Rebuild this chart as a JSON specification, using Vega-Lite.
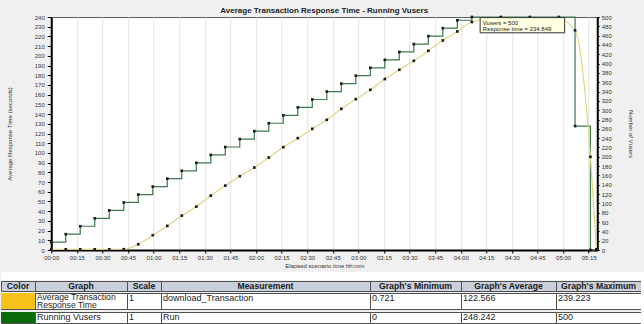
{
  "$schema": "https://vega.github.io/schema/vega-lite/v6.json",
  "background": "#f0f0f0",
  "padding": {"left": 0, "top": 6, "right": 0, "bottom": 0},
  "spacing": 3,
  "center": true,
  "config": {
    "font": "Liberation Sans",
    "view": {"stroke": null},
    "axis": {
      "labelFont": "Liberation Sans", "labelFontSize": 6, "labelColor": "#333333",
      "titleFont": "Liberation Sans", "titleFontSize": 6, "titleFontWeight": "normal", "titleColor": "#333333",
      "domainColor": "#000000", "domainWidth": 2, "tickColor": "#000000", "tickSize": 3,
      "labelFlush": false, "labelOverlap": false, "grid": false
    }
  },
  "datasets": {
    "series": [
      {"elapsed": 0, "vusers": 17, "response": 0.72},
      {"elapsed": 8.5, "vusers": 34, "response": 0.75},
      {"elapsed": 17, "vusers": 51, "response": 0.73},
      {"elapsed": 25.5, "vusers": 68, "response": 0.74},
      {"elapsed": 34, "vusers": 85, "response": 0.76},
      {"elapsed": 42.5, "vusers": 102, "response": 0.8},
      {"elapsed": 51, "vusers": 119, "response": 5.9},
      {"elapsed": 59.5, "vusers": 136, "response": 15.2},
      {"elapsed": 68, "vusers": 153, "response": 24.8},
      {"elapsed": 76.5, "vusers": 170, "response": 35.4},
      {"elapsed": 85, "vusers": 187, "response": 44.7},
      {"elapsed": 93.5, "vusers": 204, "response": 56.0},
      {"elapsed": 102, "vusers": 221, "response": 66.3},
      {"elapsed": 110.5, "vusers": 238, "response": 76.0},
      {"elapsed": 119, "vusers": 255, "response": 84.9},
      {"elapsed": 127.5, "vusers": 272, "response": 95.2},
      {"elapsed": 136, "vusers": 289, "response": 105.9},
      {"elapsed": 144.5, "vusers": 306, "response": 115.2},
      {"elapsed": 153, "vusers": 323, "response": 124.8},
      {"elapsed": 161.5, "vusers": 340, "response": 134.1},
      {"elapsed": 170, "vusers": 357, "response": 145.4},
      {"elapsed": 178.5, "vusers": 374, "response": 155.4},
      {"elapsed": 187, "vusers": 391, "response": 165.0},
      {"elapsed": 195.5, "vusers": 408, "response": 176.1},
      {"elapsed": 204, "vusers": 425, "response": 185.6},
      {"elapsed": 212.5, "vusers": 442, "response": 194.9},
      {"elapsed": 221, "vusers": 459, "response": 205.2},
      {"elapsed": 229.5, "vusers": 476, "response": 215.9},
      {"elapsed": 238, "vusers": 493, "response": 225.1},
      {"elapsed": 246.5, "vusers": 500, "response": 234.849},
      {"elapsed": 263.5, "vusers": 500, "response": 239.223},
      {"elapsed": 280.5, "vusers": 500, "response": 238.9},
      {"elapsed": 297.5, "vusers": 500, "response": 238.2},
      {"elapsed": 307, "vusers": 266, "response": 226.2},
      {"elapsed": 316, "vusers": 0, "response": 96.0},
      {"elapsed": 319.5, "vusers": 0, "response": 0.8}
    ],
    "headers": [
      {"col": "color", "label": "Color"},
      {"col": "graph", "label": "Graph"},
      {"col": "scale", "label": "Scale"},
      {"col": "measurement", "label": "Measurement"},
      {"col": "min", "label": "Graph's Minimum"},
      {"col": "avg", "label": "Graph's Average"},
      {"col": "max", "label": "Graph's Maximum"}
    ],
    "summary": [
      {"series": "response", "graph": "Average Transaction\nResponse Time", "scale": 1, "measurement": "download_Transaction", "min": 0.721, "avg": 122.566, "max": 239.223},
      {"series": "vusers", "graph": "Running Vusers", "scale": 1, "measurement": "Run", "min": 0, "avg": 248.242, "max": 500}
    ]
  },
  "vconcat": [
    {
      "width": 546,
      "height": 233,
      "view": {"fill": "#ffffff", "stroke": "#606060"},
      "title": {"text": "Average Transaction Response Time - Running Vusers", "font": "Liberation Sans", "fontSize": 8, "fontWeight": "bold", "color": "#222222", "offset": -1, "anchor": "middle"},
      "data": {"name": "series"},
      "encoding": {
        "x": {
          "field": "elapsed", "type": "quantitative",
          "scale": {"domain": [0, 320], "nice": false, "zero": false},
          "axis": {
            "values": [0, 15, 30, 45, 60, 75, 90, 105, 120, 135, 150, 165, 180, 195, 210, 225, 240, 255, 270, 285, 300, 315],
            "labelExpr": "(floor(datum.value / 60) < 10 ? '0' : '') + floor(datum.value / 60) + ':' + (datum.value % 60 < 10 ? '0' : '') + (datum.value % 60)",
            "title": "Elapsed scenario time hh:mm",
            "grid": true, "gridColor": "#e4e4e4", "gridWidth": 1,
            "tickSize": 3, "labelPadding": 1, "titlePadding": 2
          }
        }
      },
      "layer": [
        {
          "encoding": {
            "y": {
              "field": "vusers", "type": "quantitative",
              "scale": {"domain": [0, 500], "nice": false},
              "axis": {
                "orient": "right",
                "values": [0, 20, 40, 60, 80, 100, 120, 140, 160, 180, 200, 220, 240, 260, 280, 300, 320, 340, 360, 380, 400, 420, 440, 460, 480, 500],
                "title": "Number of Vusers", "titleAngle": 90, "titlePadding": 16,
                "tickSize": 2, "labelPadding": 2
              }
            }
          },
          "layer": [
            {"mark": {"type": "line", "interpolate": "step-after", "color": "#3c7a4c", "strokeWidth": 1.2}},
            {"mark": {"type": "point", "shape": "square", "filled": true, "size": 7, "color": "#1a1a1a", "opacity": 1}}
          ]
        },
        {
          "encoding": {
            "y": {
              "field": "response", "type": "quantitative",
              "scale": {"domain": [0, 240], "nice": false},
              "axis": {
                "orient": "left",
                "values": [0, 10, 20, 30, 40, 50, 60, 70, 80, 90, 100, 110, 120, 130, 140, 150, 160, 170, 180, 190, 200, 210, 220, 230, 240],
                "title": "Average Response Time (seconds)", "titlePadding": 21.5,
                "tickSize": 4, "labelPadding": 3
              }
            }
          },
          "layer": [
            {"mark": {"type": "line", "interpolate": "monotone", "color": "#e3d57e", "strokeWidth": 1.2}},
            {"mark": {"type": "point", "shape": "square", "filled": true, "size": 7, "color": "#1a1a1a", "opacity": 1}},
            {
              "transform": [{"filter": "datum.elapsed == 246.5"}],
              "mark": {"type": "point", "shape": "M0.83,-0.44H9.28V1.08H0.83Z", "size": 400, "filled": true, "fill": "#ffffe1", "stroke": "#333333", "strokeWidth": 1, "opacity": 1}
            },
            {
              "transform": [
                {"filter": "datum.elapsed == 246.5"},
                {"calculate": "'Vusers = ' + datum.vusers + '\\n' + 'Response time = ' + datum.response", "as": "tip"}
              ],
              "mark": {"type": "text", "align": "left", "baseline": "top", "dx": 11, "dy": -2.5, "fontSize": 6, "lineHeight": 6.5, "lineBreak": "\n", "color": "#222222"},
              "encoding": {"text": {"field": "tip", "type": "nominal"}}
            }
          ]
        }
      ],
      "resolve": {"scale": {"y": "independent"}, "axis": {"y": "independent"}}
    },
    {
      "spacing": 0,
      "vconcat": [
        {"width": 683, "height": 8, "view": {"fill": "#ffffff"}, "data": {"name": "headers"}, "transform": [{"filter": "datum.col == 'color'"}], "mark": {"type": "rect", "color": "#ffffff", "opacity": 0.01}},
        {
          "spacing": 0, "bounds": "flush",
          "hconcat": [
            {"width": 34, "height": 10, "view": {"fill": "#c9d0dc", "stroke": "#4f4f4f"}, "data": {"name": "headers"}, "transform": [{"filter": "datum.col == 'color'"}], "mark": {"type": "text", "fontWeight": "bold", "fontSize": 8.7, "color": "#1a1a1a", "baseline": "middle"}, "encoding": {"text": {"field": "label", "type": "nominal"}}},
            {"width": 92, "height": 10, "view": {"fill": "#c9d0dc", "stroke": "#4f4f4f"}, "data": {"name": "headers"}, "transform": [{"filter": "datum.col == 'graph'"}], "mark": {"type": "text", "fontWeight": "bold", "fontSize": 8.7, "color": "#1a1a1a", "baseline": "middle"}, "encoding": {"text": {"field": "label", "type": "nominal"}}},
            {"width": 34, "height": 10, "view": {"fill": "#c9d0dc", "stroke": "#4f4f4f"}, "data": {"name": "headers"}, "transform": [{"filter": "datum.col == 'scale'"}], "mark": {"type": "text", "fontWeight": "bold", "fontSize": 8.7, "color": "#1a1a1a", "baseline": "middle"}, "encoding": {"text": {"field": "label", "type": "nominal"}}},
            {"width": 209, "height": 10, "view": {"fill": "#c9d0dc", "stroke": "#4f4f4f"}, "data": {"name": "headers"}, "transform": [{"filter": "datum.col == 'measurement'"}], "mark": {"type": "text", "fontWeight": "bold", "fontSize": 8.7, "color": "#1a1a1a", "baseline": "middle"}, "encoding": {"text": {"field": "label", "type": "nominal"}}},
            {"width": 91, "height": 10, "view": {"fill": "#c9d0dc", "stroke": "#4f4f4f"}, "data": {"name": "headers"}, "transform": [{"filter": "datum.col == 'min'"}], "mark": {"type": "text", "fontWeight": "bold", "fontSize": 8.7, "color": "#1a1a1a", "baseline": "middle"}, "encoding": {"text": {"field": "label", "type": "nominal"}}},
            {"width": 95, "height": 10, "view": {"fill": "#c9d0dc", "stroke": "#4f4f4f"}, "data": {"name": "headers"}, "transform": [{"filter": "datum.col == 'avg'"}], "mark": {"type": "text", "fontWeight": "bold", "fontSize": 8.7, "color": "#1a1a1a", "baseline": "middle"}, "encoding": {"text": {"field": "label", "type": "nominal"}}},
            {"width": 85, "height": 10, "view": {"fill": "#c9d0dc", "stroke": "#4f4f4f"}, "data": {"name": "headers"}, "transform": [{"filter": "datum.col == 'max'"}], "mark": {"type": "text", "fontWeight": "bold", "fontSize": 8.7, "color": "#1a1a1a", "baseline": "middle"}, "encoding": {"text": {"field": "label", "type": "nominal"}}},
            {"width": 43, "height": 11, "view": {"fill": "#ffffff"}, "data": {"name": "headers"}, "transform": [{"filter": "datum.col == 'max'"}], "mark": {"type": "rect", "color": "#ffffff", "opacity": 0.01}}
          ]
        },
        {
          "spacing": 0, "bounds": "flush",
          "hconcat": [
            {"width": 34, "height": 16, "view": {"stroke": "#4f4f4f"}, "data": {"name": "summary"}, "transform": [{"filter": "datum.series == 'response'"}], "mark": {"type": "rect"}, "encoding": {"color": {"field": "series", "type": "nominal", "scale": {"domain": ["response", "vusers"], "range": ["#f8c21a", "#0a6b0a"]}, "legend": null}}},
            {"width": 92, "height": 16, "view": {"fill": "#ffffff", "stroke": "#4f4f4f"}, "data": {"name": "summary"}, "transform": [{"filter": "datum.series == 'response'"}], "mark": {"type": "text", "align": "left", "baseline": "top", "fontSize": 8.6, "lineHeight": 8.6, "lineBreak": "\n", "color": "#1e1e1e"}, "encoding": {"x": {"value": 2}, "y": {"value": -0.3}, "text": {"field": "graph", "type": "nominal"}}},
            {"width": 34, "height": 16, "view": {"fill": "#ffffff", "stroke": "#4f4f4f"}, "data": {"name": "summary"}, "transform": [{"filter": "datum.series == 'response'"}], "mark": {"type": "text", "align": "left", "baseline": "top", "fontSize": 9, "color": "#1e1e1e"}, "encoding": {"x": {"value": 2}, "y": {"value": 0.5}, "text": {"field": "scale", "type": "nominal"}}},
            {"width": 209, "height": 16, "view": {"fill": "#ffffff", "stroke": "#4f4f4f"}, "data": {"name": "summary"}, "transform": [{"filter": "datum.series == 'response'"}], "mark": {"type": "text", "align": "left", "baseline": "top", "fontSize": 9, "color": "#1e1e1e"}, "encoding": {"x": {"value": 2}, "y": {"value": 0.5}, "text": {"field": "measurement", "type": "nominal"}}},
            {"width": 91, "height": 16, "view": {"fill": "#ffffff", "stroke": "#4f4f4f"}, "data": {"name": "summary"}, "transform": [{"filter": "datum.series == 'response'"}], "mark": {"type": "text", "align": "left", "baseline": "top", "fontSize": 9, "color": "#1e1e1e"}, "encoding": {"x": {"value": 2}, "y": {"value": 0.5}, "text": {"field": "min", "type": "nominal"}}},
            {"width": 95, "height": 16, "view": {"fill": "#ffffff", "stroke": "#4f4f4f"}, "data": {"name": "summary"}, "transform": [{"filter": "datum.series == 'response'"}], "mark": {"type": "text", "align": "left", "baseline": "top", "fontSize": 9, "color": "#1e1e1e"}, "encoding": {"x": {"value": 2}, "y": {"value": 0.5}, "text": {"field": "avg", "type": "nominal"}}},
            {"width": 85, "height": 16, "view": {"fill": "#ffffff", "stroke": "#4f4f4f"}, "data": {"name": "summary"}, "transform": [{"filter": "datum.series == 'response'"}], "mark": {"type": "text", "align": "left", "baseline": "top", "fontSize": 9, "color": "#1e1e1e"}, "encoding": {"x": {"value": 2}, "y": {"value": 0.5}, "text": {"field": "max", "type": "nominal"}}},
            {"width": 43, "height": 17, "view": {"fill": "#ffffff"}, "data": {"name": "summary"}, "transform": [{"filter": "datum.series == 'response'"}], "mark": {"type": "rect", "color": "#ffffff", "opacity": 0.01}}
          ]
        },
        {
          "spacing": 0, "bounds": "flush",
          "hconcat": [
            {"width": 34, "height": 11, "view": {"stroke": "#4f4f4f"}, "data": {"name": "summary"}, "transform": [{"filter": "datum.series == 'vusers'"}], "mark": {"type": "rect"}, "encoding": {"color": {"field": "series", "type": "nominal", "scale": {"domain": ["response", "vusers"], "range": ["#f8c21a", "#0a6b0a"]}, "legend": null}}},
            {"width": 92, "height": 11, "view": {"fill": "#ffffff", "stroke": "#4f4f4f"}, "data": {"name": "summary"}, "transform": [{"filter": "datum.series == 'vusers'"}], "mark": {"type": "text", "align": "left", "baseline": "top", "fontSize": 9, "color": "#1e1e1e"}, "encoding": {"x": {"value": 2}, "y": {"value": 0.5}, "text": {"field": "graph", "type": "nominal"}}},
            {"width": 34, "height": 11, "view": {"fill": "#ffffff", "stroke": "#4f4f4f"}, "data": {"name": "summary"}, "transform": [{"filter": "datum.series == 'vusers'"}], "mark": {"type": "text", "align": "left", "baseline": "top", "fontSize": 9, "color": "#1e1e1e"}, "encoding": {"x": {"value": 2}, "y": {"value": 0.5}, "text": {"field": "scale", "type": "nominal"}}},
            {"width": 209, "height": 11, "view": {"fill": "#ffffff", "stroke": "#4f4f4f"}, "data": {"name": "summary"}, "transform": [{"filter": "datum.series == 'vusers'"}], "mark": {"type": "text", "align": "left", "baseline": "top", "fontSize": 9, "color": "#1e1e1e"}, "encoding": {"x": {"value": 2}, "y": {"value": 0.5}, "text": {"field": "measurement", "type": "nominal"}}},
            {"width": 91, "height": 11, "view": {"fill": "#ffffff", "stroke": "#4f4f4f"}, "data": {"name": "summary"}, "transform": [{"filter": "datum.series == 'vusers'"}], "mark": {"type": "text", "align": "left", "baseline": "top", "fontSize": 9, "color": "#1e1e1e"}, "encoding": {"x": {"value": 2}, "y": {"value": 0.5}, "text": {"field": "min", "type": "nominal"}}},
            {"width": 95, "height": 11, "view": {"fill": "#ffffff", "stroke": "#4f4f4f"}, "data": {"name": "summary"}, "transform": [{"filter": "datum.series == 'vusers'"}], "mark": {"type": "text", "align": "left", "baseline": "top", "fontSize": 9, "color": "#1e1e1e"}, "encoding": {"x": {"value": 2}, "y": {"value": 0.5}, "text": {"field": "avg", "type": "nominal"}}},
            {"width": 85, "height": 11, "view": {"fill": "#ffffff", "stroke": "#4f4f4f"}, "data": {"name": "summary"}, "transform": [{"filter": "datum.series == 'vusers'"}], "mark": {"type": "text", "align": "left", "baseline": "top", "fontSize": 9, "color": "#1e1e1e"}, "encoding": {"x": {"value": 2}, "y": {"value": 0.5}, "text": {"field": "max", "type": "nominal"}}},
            {"width": 43, "height": 14, "view": {"fill": "#ffffff"}, "data": {"name": "summary"}, "transform": [{"filter": "datum.series == 'vusers'"}], "mark": {"type": "rect", "color": "#ffffff", "opacity": 0.01}}
          ]
        }
      ]
    }
  ]
}
